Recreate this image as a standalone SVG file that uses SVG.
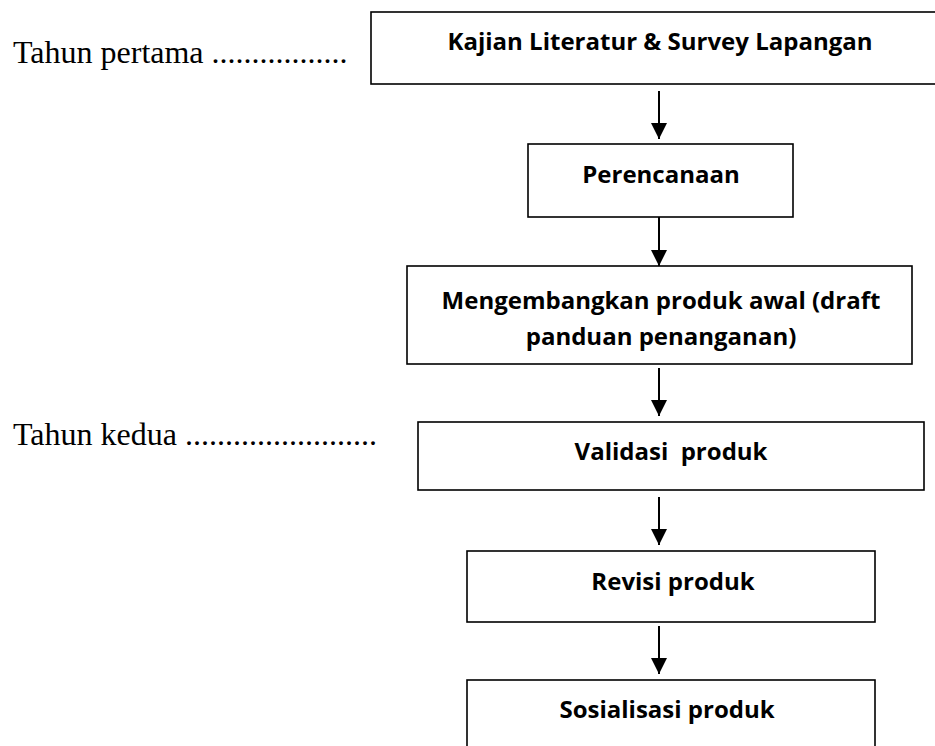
<svg xmlns="http://www.w3.org/2000/svg" width="935" height="746" viewBox="0 0 935 746">
  <defs>
    <marker id="ah" markerWidth="16" markerHeight="16" refX="16" refY="8" orient="auto" markerUnits="userSpaceOnUse">
      <path d="M0,0 L16,8 L0,16 Z" fill="#000"/>
    </marker>
  </defs>
  <style>
    .box { fill: #fff; stroke: #000; stroke-width: 1.6; }
    .lbl { font-family: "Open Sans", "Noto Sans", sans-serif; font-weight: 700; font-size: 24px; fill: #000; text-anchor: middle; }
    .side { font-family: "Liberation Serif", "Times New Roman", serif; font-size: 32px; fill: #000; }
    .conn { stroke: #000; stroke-width: 2; fill: none; marker-end: url(#ah); }
  </style>
  <rect width="935" height="746" fill="#fff"/>

  <g id="label-tahun-pertama">
    <text class="side" x="13" y="63">Tahun pertama .................</text>
  </g>
  <g id="label-tahun-kedua">
    <text class="side" x="13" y="445">Tahun kedua ........................</text>
  </g>

  <g id="n1">
    <rect class="box" x="371" y="12" width="578" height="72"/>
    <text class="lbl" x="660" y="50">Kajian Literatur &amp; Survey Lapangan</text>
  </g>
  <g id="n2">
    <rect class="box" x="528" y="144" width="265" height="73"/>
    <text class="lbl" x="661" y="183">Perencanaan</text>
  </g>
  <g id="n3">
    <rect class="box" x="407" y="266" width="505" height="98"/>
    <text class="lbl" x="661" y="309">Mengembangkan produk awal (draft</text>
    <text class="lbl" x="661" y="345">panduan penanganan)</text>
  </g>
  <g id="n4">
    <rect class="box" x="418" y="422" width="506" height="68"/>
    <text class="lbl" x="671" y="460" xml:space="preserve">Validasi  produk</text>
  </g>
  <g id="n5">
    <rect class="box" x="467" y="551" width="408" height="71"/>
    <text class="lbl" x="673" y="590">Revisi produk</text>
  </g>
  <g id="n6">
    <rect class="box" x="467" y="680" width="408" height="80"/>
    <text class="lbl" x="667" y="718">Sosialisasi produk</text>
  </g>

  <g id="connectors">
    <line class="conn" x1="659" y1="91" x2="659" y2="139"/>
    <line class="conn" x1="659" y1="217" x2="659" y2="266"/>
    <line class="conn" x1="659" y1="368" x2="659" y2="416"/>
    <line class="conn" x1="659" y1="497" x2="659" y2="545"/>
    <line class="conn" x1="659" y1="626" x2="659" y2="674"/>
  </g>
</svg>
